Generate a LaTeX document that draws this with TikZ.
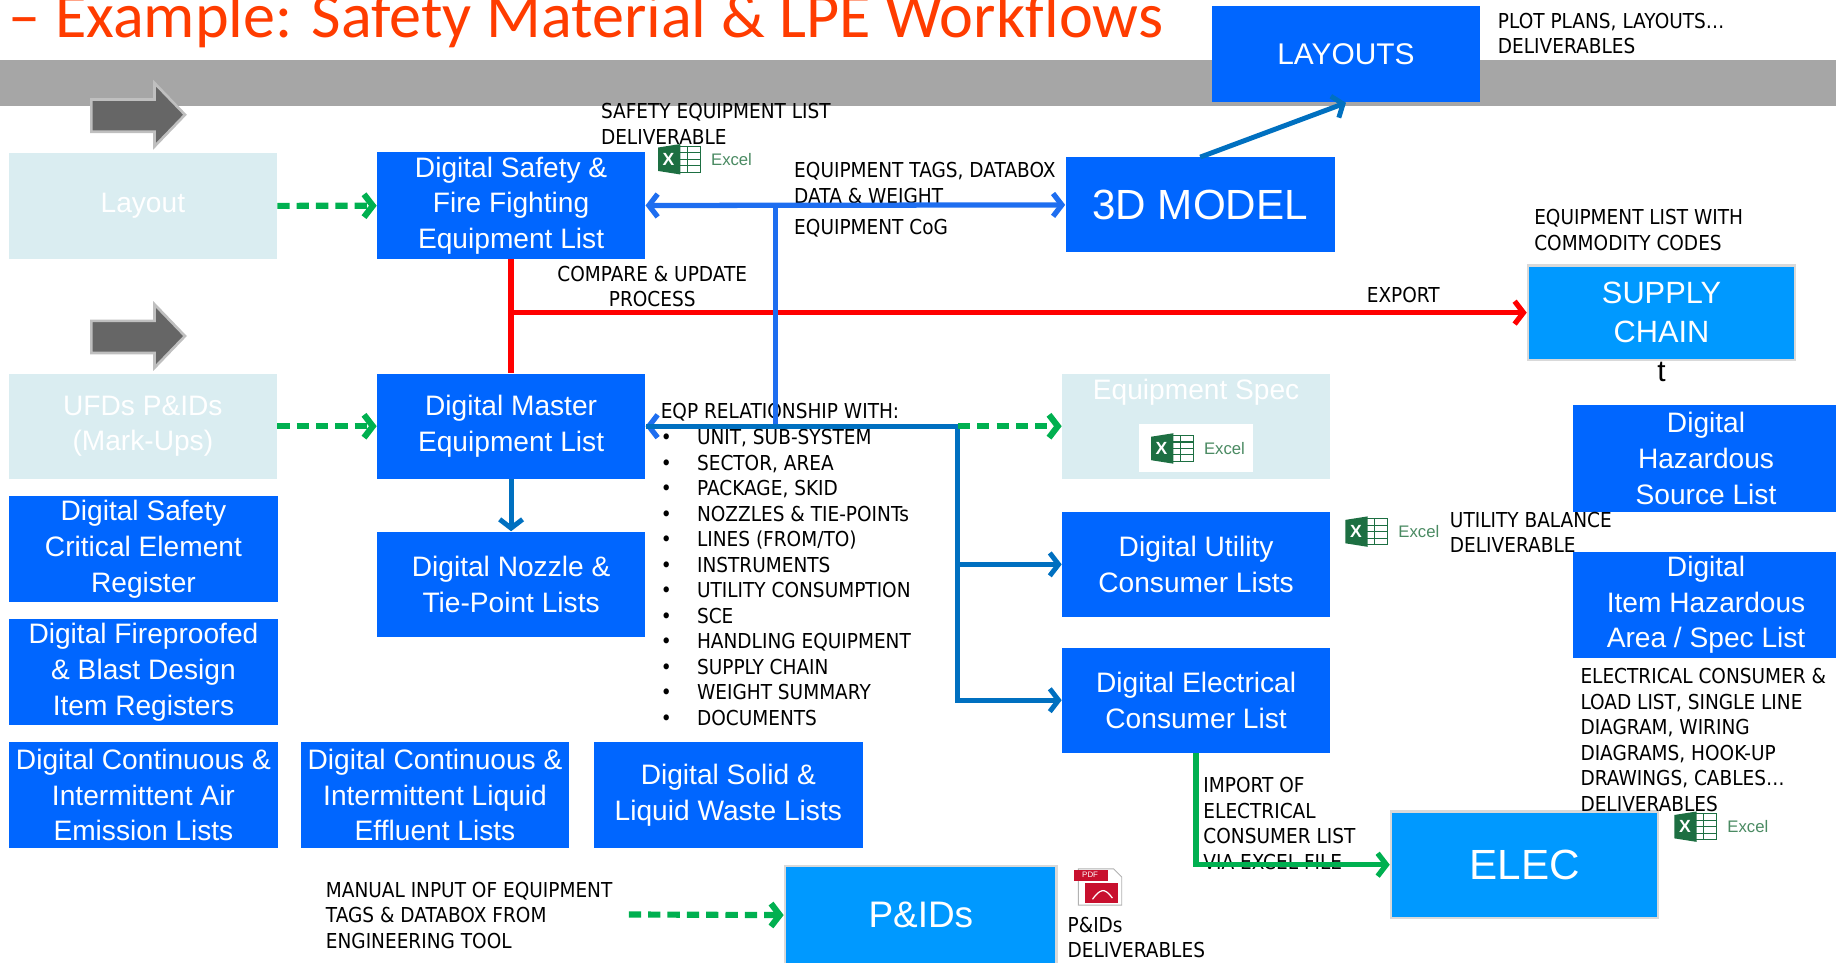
\documentclass[tikz,border=0pt]{standalone}
\usepackage{fontspec}
\setmainfont{Liberation Sans}
\newfontfamily\lblfont{DejaVu Sans}[FakeStretch=0.9]
\newfontfamily\ttlfont{Carlito}
\usetikzlibrary{arrows.meta,positioning}

\definecolor{boxblue}{HTML}{0066FF}
\definecolor{skyblue}{HTML}{0099FF}
\definecolor{paleblue}{HTML}{DAEDF1}
\definecolor{bandgray}{HTML}{A6A6A6}
\definecolor{flowgreen}{HTML}{00B050}
\definecolor{brightblue}{HTML}{1E6EF0}
\definecolor{darkblue}{HTML}{0070C0}
\definecolor{titlered}{HTML}{FF3C00}
\definecolor{xlgreen}{HTML}{1D6F42}
\definecolor{xltext}{HTML}{4A8A62}
\definecolor{pdfred}{HTML}{C8102E}

\newlength\pxu
\setlength\pxu{0.0234cm}
\newcommand\bul{\makebox[31\pxu][l]{\textbullet}}

\tikzset{
  dbox/.style={fill=boxblue, text=white, align=center, inner sep=0pt,
    minimum width=229\pxu, minimum height=90\pxu, font=\fontsize{16}{20.3}\selectfont},
  pbox/.style={dbox, fill=paleblue},
  sbox/.style={dbox, fill=skyblue, draw=black!15, line width=1.5pt},
  lbl/.style={anchor=north west, align=left, inner sep=0pt,
    font=\lblfont\fontsize{11.7}{14.5}\selectfont},
  gdash/.style={->, flowgreen, line width=3.5pt, dash pattern=on 7pt off 4pt},
  gline/.style={->, flowgreen, line width=3pt},
  bline/.style={brightblue, line width=3pt},
  dline/.style={darkblue, line width=2.8pt},
  rline/.style={red, line width=3pt},
  xlsicon/.pic={
    \filldraw[fill=white, draw=xlgreen, line width=0.6pt] (12,-11) rectangle (36,11);
    \foreach \yy in {-5.5,0,5.5} \draw[xlgreen, line width=0.6pt] (18,\yy) -- (36,\yy);
    \draw[xlgreen, line width=0.6pt] (25,-11) -- (25,11);
    \fill[xlgreen] (0,-10) -- (19,-13) -- (19,13) -- (0,10) -- cycle;
    \node[text=white, inner sep=0pt, font=\bfseries\fontsize{10}{10}\selectfont] (-mark) at (9,0) {X};
    \node[anchor=west, text=xltext, inner sep=0pt, font=\fontsize{9.5}{10}\selectfont] (-word) at (45,0) {Excel};
  }
}

\begin{document}
\begin{tikzpicture}[x=0.0234cm, y=-0.0234cm, >={Straight Barb[length=5pt,width=13pt]}]
  \useasboundingbox (0,0) rectangle (1568,822);
  \fill[bandgray] (0,51) rectangle (1568,90.5);
  \node[anchor=base west, inner sep=0pt, text=titlered, font=\ttlfont\fontsize{36.5}{40}\selectfont] (title) at (7,32) {– Example: Safety Material \& LPE Workflows};

  % grey block arrows
  \filldraw[fill=black!60, draw=black!25, line width=1.5pt] (78,85) -- (132,85) -- (132,71) -- (158,98) -- (132,125) -- (132,112.5) -- (78,112.5) -- cycle;
  \filldraw[fill=black!60, draw=black!25, line width=1.5pt] (78,274) -- (132,274) -- (132,260) -- (158,287) -- (132,314) -- (132,301.5) -- (78,301.5) -- cycle;

  % boxes
  \node[pbox] (layout) at (122,176) {Layout};
  \node[dbox, minimum height=91\pxu] (safety) at (436.5,175.5) {Digital Safety \&\\Fire Fighting\\Equipment List};
  \node[dbox, minimum width=230\pxu, minimum height=81\pxu, font=\fontsize{24}{28}\selectfont] (model) at (1025,175) {3D MODEL};
  \node[dbox, minimum height=82\pxu, font=\fontsize{17}{20}\selectfont] (layouts) at (1149.5,46.5) {LAYOUTS};
  \node[sbox, minimum width=228\pxu, minimum height=81\pxu, font=\fontsize{17.5}{22}\selectfont] (supply) at (1419,267) {SUPPLY\\CHAIN};
  \node[inner sep=0pt, font=\fontsize{17}{17}\selectfont] (tee) at (1419,318) {t};
  \node[pbox] (ufds) at (122,364) {UFDs P\&IDs\\(Mark-Ups)};
  \node[dbox] (master) at (436.5,364) {Digital Master\\Equipment List};
  \node[dbox] (nozzle) at (436.5,499) {Digital Nozzle \&\\Tie-Point Lists};
  \node[pbox] (spec) at (1021.5,364) {};
  \node[text=white, inner sep=0pt, font=\fontsize{16}{20}\selectfont] (spectxt) at (1021.5,335) {Equipment Spec};
  \fill[white] (973,362) rectangle (1070,403.5);
  \pic (xspec) at (983,383) {xlsicon};
  \node[dbox] (util) at (1021.5,482) {Digital Utility\\Consumer Lists};
  \node[dbox] (elecl) at (1021.5,598) {Digital Electrical\\Consumer List};
  \node[dbox, minimum width=228\pxu, minimum height=91\pxu] (hazsrc) at (1457,391.5) {Digital\\Hazardous\\Source List};
  \node[dbox, minimum width=228\pxu, minimum height=91\pxu] (hazarea) at (1457,516.7) {Digital\\Item Hazardous\\Area / Spec List};
  \node[dbox] (sce) at (122.5,469) {Digital Safety\\Critical Element\\Register};
  \node[dbox] (fireproof) at (122.5,574) {Digital Fireproofed\\\& Blast Design\\Item Registers};
  \node[dbox] (air) at (122.5,679) {Digital Continuous \&\\Intermittent Air\\Emission Lists};
  \node[dbox] (effluent) at (371.5,679) {Digital Continuous \&\\Intermittent Liquid\\Effluent Lists};
  \node[dbox, minimum width=230\pxu] (waste) at (622,679) {Digital Solid \&\\Liquid Waste Lists};
  \node[sbox, minimum width=232\pxu, minimum height=84\pxu, font=\fontsize{21}{24}\selectfont] (pids) at (786.4,781.5) {P\&IDs};
  \node[sbox, minimum width=228\pxu, minimum height=91\pxu, font=\fontsize{24}{28}\selectfont] (elec) at (1302,738.5) {ELEC};

  % labels
  \node[lbl] (plotdel) at (1279,11) {PLOT PLANS, LAYOUTS…\\DELIVERABLES};
  \node[lbl] (safedel) at (513,88) {SAFETY EQUIPMENT LIST\\DELIVERABLE};
  \pic (xsafe) at (562,136) {xlsicon};
  \node[lbl] (tags) at (678,138.5) {EQUIPMENT TAGS, DATABOX\\DATA \& WEIGHT};
  \node[lbl] (cog) at (678,187) {EQUIPMENT CoG};
  \node[lbl, anchor=north, align=center] (compare) at (557,227) {COMPARE \& UPDATE\\PROCESS};
  \node[lbl] (export) at (1167,245) {EXPORT};
  \node[lbl] (commod) at (1310,178.5) {EQUIPMENT LIST WITH\\COMMODITY CODES};
  \node[lbl] (eqp) at (564,344.5) {EQP RELATIONSHIP WITH:};
  \node[lbl] (eqplist) at (564,366.5) {\bul UNIT, SUB-SYSTEM\\\bul SECTOR, AREA\\\bul PACKAGE, SKID\\\bul NOZZLES \& TIE-POINTs\\\bul LINES (FROM/TO)\\\bul INSTRUMENTS\\\bul UTILITY CONSUMPTION\\\bul SCE\\\bul HANDLING EQUIPMENT\\\bul SUPPLY CHAIN\\\bul WEIGHT SUMMARY\\\bul DOCUMENTS};
  \pic (xutil) at (1149,454) {xlsicon};
  \node[lbl] (utilbal) at (1238,437) {UTILITY BALANCE\\DELIVERABLE};
  \node[lbl] (elecdel) at (1349.5,570.5) {ELECTRICAL CONSUMER \&\\LOAD LIST, SINGLE LINE\\DIAGRAM, WIRING\\DIAGRAMS, HOOK-UP\\DRAWINGS, CABLES…\\DELIVERABLES};
  \pic (xelec) at (1430,706) {xlsicon};
  \node[lbl] (import) at (1027.5,663.5) {IMPORT OF\\ELECTRICAL\\CONSUMER LIST\\VIA EXCEL FILE};
  \node[lbl] (manual) at (278,753) {MANUAL INPUT OF EQUIPMENT\\TAGS \& DATABOX FROM\\ENGINEERING TOOL};
  \node[lbl] (pidsdel) at (911.5,783) {P\&IDs\\DELIVERABLES};

  % pdf icon
  \filldraw[fill=white, draw=black!30, line width=0.5pt] (921,742) -- (951,742) -- (958,749) -- (958,773) -- (921,773) -- cycle;
  \fill[pdfred] (917,743) rectangle (946,752);
  \node[text=white, inner sep=0pt, font=\fontsize{4.5}{5}\selectfont] (pdftag) at (931,747.5) {PDF};
  \fill[pdfred] (927,754) rectangle (955,771);
  \draw[white, line width=0.7pt] (933,768) .. controls (939,760) and (943,757) .. (950,767);

  % connectors
  \draw[gdash] (layout) -- (safety);
  \draw[gdash] (ufds) -- (master);
  \draw[rline] (safety) -- (master);
  \draw[rline, ->] (safety.south |- supply.west) -- (supply.west);
  \draw[bline, <->] (safety.east) -- (model.west);
  \coordinate (tj) at (662,176);
  \coordinate (mj) at (818,364);
  \draw[bline, ->] (tj) |- (master.east);
  \draw[dline] (mj) -- (master.east);
  \draw[dline, ->] (mj) |- (util.west);
  \draw[dline, ->] (mj) |- (elecl.west);
  \draw[gdash] (mj) -- (spec.west);
  \draw[dline, ->] (master) -- (nozzle);
  \draw[dline, ->] (model.north) -- (layouts.south);
  \draw[gline] (elecl.south) |- (elec.west);
  \coordinate (manend) at (537,781);
  \draw[gdash] (manend) -- (pids.west);
\end{tikzpicture}
\end{document}
